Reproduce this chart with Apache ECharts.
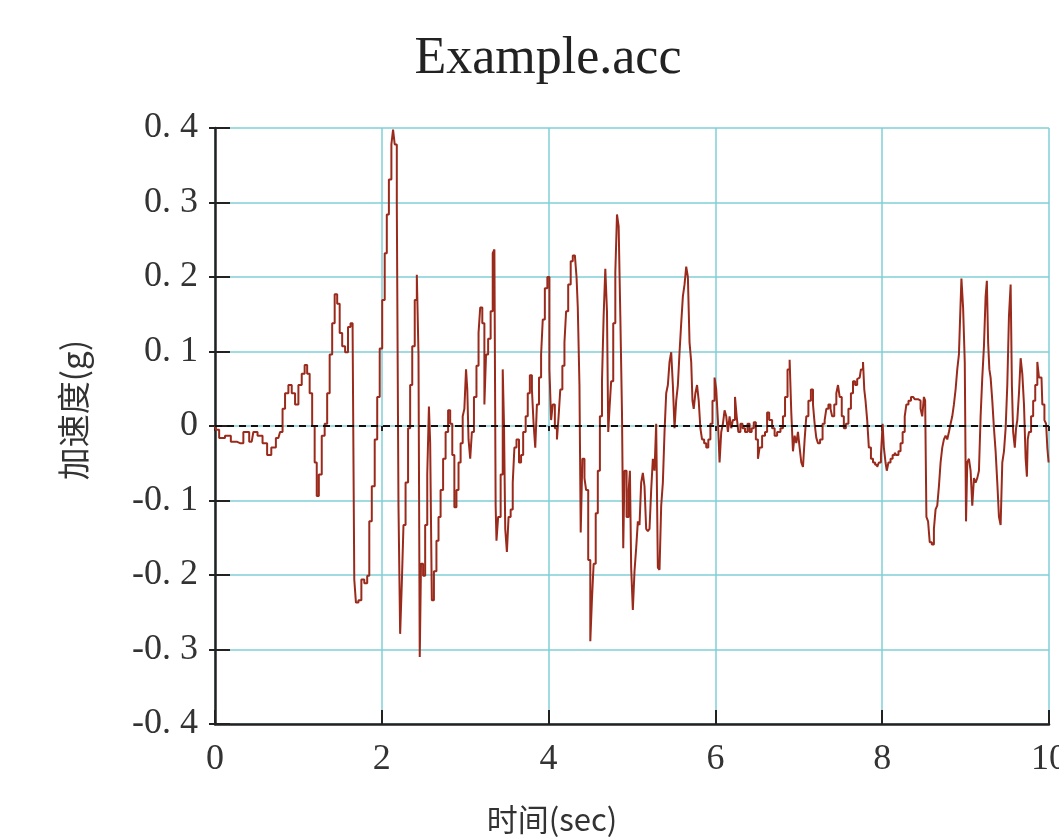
<!DOCTYPE html>
<html>
<head>
<meta charset="utf-8">
<script src="https://cdn.jsdelivr.net/npm/echarts@6/dist/echarts.min.js"></script>
<style>html,body{margin:0;padding:0;background:#fff}#c{width:1059px;height:840px}</style>
</head>
<body>
<div id="c"></div>
<script>
const titleText = 'Example.acc';
const xName = '时间(sec)';
const yName = '加速度(g)';
const yTickLabels = ['-0. 4','-0. 3','-0. 2','-0. 1','0','0. 1','0. 2','0. 3','0. 4'];
const xTickLabels = ['0','2','4','6','8','10'];

const time = [
0.00,0.02,0.08,0.16,0.22,0.30,0.38,0.44,0.48,0.54,0.60,0.65,0.70,0.76,0.80,0.82,0.86,0.90,0.94,0.98,
1.02,1.06,1.09,1.12,1.15,1.18,1.21,1.23,1.26,1.30,1.33,1.36,1.39,1.42,1.45,1.48,1.51,1.54,1.58,1.61,
1.64,1.66,1.68,1.70,1.74,1.77,1.81,1.84,1.86,1.90,1.93,1.96,1.99,2.02,2.05,2.07,2.10,2.13,2.14,2.17,
2.19,2.21,2.23,2.25,2.27,2.30,2.33,2.35,2.38,2.41,2.43,2.45,2.46,2.48,2.51,2.53,2.56,2.57,2.59,2.61,
2.64,2.67,2.69,2.72,2.75,2.78,2.81,2.83,2.86,2.88,2.91,2.93,2.96,2.98,3.00,3.02,3.03,3.05,3.07,3.09,
3.12,3.15,3.17,3.19,3.22,3.24,3.26,3.29,3.32,3.34,3.36,3.37,3.38,3.41,3.44,3.46,3.47,3.49,3.51,3.53,
3.56,3.58,3.60,3.63,3.66,3.68,3.71,3.74,3.76,3.79,3.81,3.83,3.85,3.87,3.90,3.92,3.94,3.97,4.00,4.02,
4.04,4.06,4.09,4.11,4.13,4.15,4.18,4.20,4.22,4.25,4.28,4.30,4.33,4.34,4.36,4.38,4.39,4.42,4.44,4.46,
4.49,4.51,4.53,4.55,4.58,4.60,4.63,4.65,4.67,4.69,4.71,4.72,4.74,4.76,4.79,4.81,4.83,4.85,4.87,4.89,
4.90,4.92,4.95,4.97,4.98,5.00,5.02,5.04,5.06,5.08,5.10,5.12,5.14,5.16,5.18,5.20,5.22,5.24,5.26,5.28,
5.30,5.32,5.34,5.36,5.38,5.40,5.42,5.44,5.46,5.48,5.50,5.52,5.54,5.56,5.58,5.60,5.62,5.64,5.66,5.68,
5.70,5.72,5.73,5.75,5.77,5.79,5.81,5.83,5.85,5.88,5.90,5.93,5.95,5.98,6.00,6.02,6.04,6.06,6.08,6.10,
6.12,6.14,6.16,6.18,6.20,6.22,6.25,6.26,6.29,6.31,6.34,6.37,6.40,6.42,6.45,6.47,6.50,6.52,6.54,6.58,
6.61,6.63,6.66,6.70,6.72,6.76,6.80,6.82,6.85,6.88,6.90,6.92,6.94,6.96,6.98,7.00,7.02,7.04,7.06,7.08,
7.10,7.13,7.16,7.18,7.20,7.22,7.24,7.27,7.30,7.32,7.34,7.37,7.39,7.41,7.44,7.46,7.48,7.50,7.53,7.55,
7.58,7.61,7.64,7.66,7.69,7.71,7.73,7.76,7.78,7.79,7.81,7.83,7.85,7.88,7.90,7.93,7.95,7.97,8.00,8.01,
8.03,8.05,8.06,8.09,8.11,8.14,8.16,8.18,8.21,8.23,8.26,8.28,8.30,8.33,8.36,8.37,8.41,8.45,8.47,8.49,
8.51,8.52,8.54,8.56,8.58,8.61,8.63,8.65,8.67,8.69,8.71,8.73,8.75,8.77,8.79,8.81,8.83,8.85,8.87,8.89,
8.91,8.93,8.94,8.96,8.98,9.00,9.01,9.03,9.05,9.07,9.09,9.11,9.13,9.15,9.17,9.19,9.21,9.23,9.25,9.26,
9.28,9.29,9.31,9.33,9.35,9.37,9.39,9.41,9.43,9.45,9.47,9.49,9.51,9.53,9.55,9.56,9.58,9.60,9.61,9.63,
9.65,9.67,9.69,9.71,9.73,9.74,9.75,9.77,9.80,9.82,9.85,9.87,9.89,9.91,9.93,9.96,9.97,9.99,10.00
];

const acc = [
0.000,-0.005,-0.016,-0.013,-0.021,-0.023,-0.008,-0.021,-0.008,-0.013,-0.023,-0.039,-0.029,-0.016,-0.008,0.023,0.044,0.055,0.044,0.029,
0.055,0.070,0.082,0.070,0.044,0.000,-0.049,-0.094,-0.065,-0.013,0.003,0.044,0.096,0.138,0.177,0.164,0.125,0.107,0.099,0.133,
0.138,0.128,-0.206,-0.237,-0.234,-0.206,-0.211,-0.201,-0.128,-0.081,-0.018,0.039,0.104,0.169,0.232,0.284,0.331,0.378,0.398,0.378,
0.297,-0.107,-0.279,-0.211,-0.133,-0.076,-0.003,0.055,0.107,0.169,0.203,0.096,-0.310,-0.185,-0.201,-0.133,-0.065,0.026,-0.023,-0.234,
-0.195,-0.154,-0.122,-0.086,-0.044,-0.008,0.021,0.003,-0.039,-0.109,-0.086,-0.049,-0.023,0.013,0.023,0.076,0.049,-0.018,-0.044,-0.008,
0.039,0.081,0.125,0.159,0.138,0.029,0.096,0.117,0.154,0.232,0.237,-0.107,-0.154,-0.122,-0.065,0.076,0.003,-0.138,-0.169,-0.122,
-0.112,-0.076,-0.029,-0.018,-0.049,-0.039,-0.008,0.013,0.044,0.068,0.049,0.003,-0.029,0.029,0.065,0.096,0.143,0.185,0.200,0.076,
0.008,0.029,-0.003,-0.018,0.013,0.049,0.081,0.112,0.154,0.190,0.221,0.229,0.227,0.200,0.159,0.055,-0.143,-0.044,-0.070,-0.086,
-0.180,-0.289,-0.232,-0.185,-0.117,-0.060,0.013,0.060,0.148,0.211,0.154,-0.008,0.023,0.060,0.138,0.206,0.284,0.268,0.148,0.018,
-0.164,-0.060,-0.122,-0.086,-0.060,-0.190,-0.247,-0.195,-0.164,-0.128,-0.133,-0.076,-0.063,-0.081,-0.138,-0.141,-0.138,-0.086,-0.044,-0.060,
0.003,-0.190,-0.193,-0.107,-0.076,-0.008,0.044,0.055,0.086,0.099,0.055,-0.003,0.034,0.055,0.099,0.138,0.174,0.190,0.214,0.200,
0.112,0.086,0.034,0.023,0.044,0.055,0.034,-0.003,-0.018,-0.023,-0.029,-0.018,0.003,0.034,0.065,0.049,0.008,-0.049,-0.008,0.003,
0.021,0.013,-0.008,0.013,-0.003,0.008,0.039,0.013,-0.008,0.003,-0.003,-0.008,0.003,-0.008,-0.003,0.005,-0.018,-0.044,-0.029,-0.013,
-0.008,0.018,0.008,-0.003,-0.013,-0.008,-0.003,0.013,0.039,0.076,0.089,0.018,-0.034,-0.013,-0.023,-0.008,-0.029,-0.049,-0.055,-0.018,
0.013,0.034,0.049,0.029,0.003,-0.016,-0.023,-0.018,0.003,0.008,0.023,0.029,0.023,0.013,0.029,0.044,0.055,0.039,0.013,-0.003,
0.003,0.023,0.044,0.060,0.055,0.063,0.065,0.076,0.086,0.049,0.034,0.008,-0.029,-0.044,-0.049,-0.052,-0.055,-0.049,-0.039,0.003,
-0.029,-0.049,-0.060,-0.049,-0.044,-0.039,-0.036,-0.039,-0.034,-0.023,-0.008,0.013,0.029,0.034,0.039,0.039,0.036,0.034,0.023,0.013,
0.039,0.034,-0.122,-0.128,-0.156,-0.159,-0.138,-0.112,-0.107,-0.081,-0.049,-0.029,-0.018,-0.013,-0.018,-0.008,0.003,0.013,0.029,0.049,
0.076,0.096,0.148,0.198,0.159,0.086,-0.128,-0.049,-0.044,-0.060,-0.107,-0.070,-0.076,-0.070,-0.060,0.013,0.065,0.107,0.174,0.195,
0.112,0.076,0.065,0.034,-0.003,-0.034,-0.076,-0.122,-0.133,-0.049,-0.034,-0.003,0.055,0.148,0.190,0.055,-0.008,-0.029,-0.003,0.008,
0.044,0.091,0.070,0.029,-0.044,-0.068,-0.018,-0.008,0.013,0.034,0.055,0.086,0.065,0.065,0.029,0.008,0.003,-0.029,-0.049
];

const chart = echarts.init(document.getElementById('c'), null, {renderer: 'canvas'});
const textColor = '#333';
const serifFont = '"Liberation Serif", "DejaVu Serif", serif';
const cjkFont = '"Noto Sans CJK SC", sans-serif';
const gridColor = '#7fcfd6';
const lineColor = '#9a2b1c';

const yValueToLabel = v => {
  const idx = Math.round((v + 0.4) / 0.1);
  return yTickLabels[idx] !== undefined ? yTickLabels[idx] : '';
};
const xValueToLabel = v => {
  const idx = Math.round(v / 2);
  return xTickLabels[idx] !== undefined ? xTickLabels[idx] : '';
};

chart.setOption({
  backgroundColor: '#fff',
  animation: false,
  title: {
    text: titleText,
    left: 543,
    textAlign: 'center',
    top: 28,
    textStyle: {fontFamily: serifFont, fontSize: 52, fontWeight: 'normal', color: '#222'}
  },
  grid: {left: 215, right: 10, top: 128, bottom: 116, outerBoundsMode: 'none'},
  xAxis: [{
    type: 'value', min: 0, max: 10, interval: 2,
    name: xName, nameLocation: 'middle', nameGap: 80,
    nameTextStyle: {fontFamily: cjkFont, fontSize: 31, color: textColor, padding: [0, 160, 0, 0]},
    axisLine: {show: true, onZero: false, lineStyle: {color: '#222', width: 2.5}},
    axisTick: {show: true, inside: true, length: 14, lineStyle: {color: '#222', width: 2}},
    axisLabel: {formatter: xValueToLabel, fontFamily: serifFont, fontSize: 36, color: textColor, margin: 18},
    splitLine: {show: true, lineStyle: {color: gridColor, width: 1.5}}
  }, {
    type: 'value', min: 0, max: 10, interval: 2, position: 'bottom',
    axisLine: {show: false},
    axisTick: {show: true, inside: false, length: 5, lineStyle: {color: '#222', width: 2}},
    axisLabel: {show: false}, splitLine: {show: false}
  }],
  yAxis: [{
    type: 'value', min: -0.4, max: 0.4, interval: 0.1,
    name: yName, nameLocation: 'middle', nameGap: 125, nameRotate: 90,
    nameTextStyle: {fontFamily: cjkFont, fontSize: 33, color: textColor, padding: [0, 0, 0, 32]},
    axisLine: {show: true, onZero: false, lineStyle: {color: '#222', width: 2.5}},
    axisTick: {show: true, inside: true, length: 15, lineStyle: {color: '#222', width: 2}},
    axisLabel: {formatter: yValueToLabel, fontFamily: serifFont, fontSize: 36, color: textColor, margin: 17},
    splitLine: {show: true, lineStyle: {color: gridColor, width: 1.5}}
  }, {
    type: 'value', min: -0.4, max: 0.4, interval: 0.1, position: 'left',
    axisLine: {show: false},
    axisTick: {show: true, inside: false, length: 6, lineStyle: {color: '#222', width: 2}},
    axisLabel: {show: false}, splitLine: {show: false}
  }],
  series: [{
    type: 'line',
    xAxisIndex: 0, yAxisIndex: 0,
    data: time.map((t, i) => [t, acc[i]]),
    step: 'middle',
    showSymbol: false,
    lineStyle: {color: lineColor, width: 2},
    itemStyle: {color: lineColor},
    markLine: {
      silent: true, symbol: 'none', label: {show: false},
      lineStyle: {color: '#111', type: [7, 5], width: 2},
      data: [{yAxis: 0}]
    },
    z: 3
  }]
});
</script>
</body>
</html>
